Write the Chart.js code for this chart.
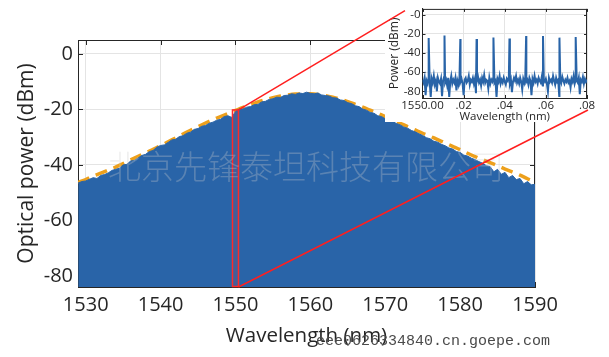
<!DOCTYPE html>
<html>
<head>
<meta charset="utf-8">
<script src="https://cdn.jsdelivr.net/npm/chart.js@4.4.1/dist/chart.umd.min.js"></script>
<style>
  html, body { margin: 0; padding: 0; background: #ffffff; }
  #wrap { position: relative; width: 609px; height: 357px; overflow: hidden; }
  canvas { position: absolute; }
  #main { left: 0; top: 0; }
  #inset { left: 385px; top: 0; }
  #overlay { left: 0; top: 0; pointer-events: none; }
</style>
</head>
<body>
<div id="wrap">
  <canvas id="main" width="609" height="357"></canvas>
  <canvas id="inset" width="224" height="124"></canvas>
  <canvas id="overlay" width="609" height="357"></canvas>
</div>
<script>
// ---------------- DATA ----------------
// Main spectrum: upper envelope of the comb spectrum (dBm), sampled every 0.5 nm from 1529 nm
const envelopeStartNm = 1529;
const envelopeStepNm = 0.5;
const envelopePower = [
  -46.5, -46.0, -45.8, -45.2, -44.6, -44.9, -43.8, -43.5, -42.9, -42.0,
  -41.6, -41.2, -40.0, -39.8, -38.6, -38.4, -37.5, -36.6, -36.2, -35.2,
  -34.8, -33.6, -33.0, -32.8, -31.9, -31.0, -30.8, -29.8, -29.5, -28.6,
  -28.2, -27.2, -26.9, -26.1, -25.8, -25.0, -24.6, -23.9, -23.6, -22.6,
  -22.3, -22.9, -20.8, -19.8, -19.9, -19.2, -19.0, -18.3, -18.2, -17.3,
  -17.1, -16.4, -16.2, -15.6, -15.7, -15.0, -14.9, -14.4, -14.6, -14.1,
  -14.3, -13.8, -14.2, -14.4, -14.1, -14.8, -15.0, -15.2, -15.8, -15.9,
  -16.6, -16.8, -17.6, -17.9, -18.7, -19.0, -19.9, -20.3, -21.1, -21.4,
  -22.3, -22.6, -23.4, -23.9, -24.4, -25.1, -25.6, -26.4, -26.8, -27.6,
  -28.1, -28.8, -29.4, -30.2, -30.6, -31.5, -31.8, -32.6, -33.1, -33.9,
  -34.3, -35.2, -35.5, -36.5, -36.8, -37.6, -38.1, -38.8, -39.4, -40.3,
  -40.6, -42.5, -41.6, -43.4, -42.7, -44.6, -43.8, -45.3, -44.9, -46.8,
  -46.0, -47.2, -47.0
];
// Fitted envelope (orange dashed), every 1 nm from 1529 nm
const fitStartNm = 1529;
const fitStepNm = 1;
const fitPower = [
  -46.3, -45.3, -44.0, -43.0, -41.9, -40.8, -39.5, -38.2, -36.9, -35.6,
  -34.4, -33.1, -31.7, -30.3, -28.9, -27.5, -26.2, -24.9, -23.7, -22.6,
  -21.5, -20.4, -19.3, -18.3, -17.3, -16.5, -15.8, -15.2, -14.8, -14.5,
  -14.4, -14.4, -14.6, -15.0, -15.6, -16.3, -17.2, -18.2, -19.2, -20.3,
  -21.4, -22.6, -23.8, -25.0, -26.2, -27.4, -28.6, -29.7, -30.9, -32.1,
  -33.3, -34.5, -35.8, -37.0, -38.1, -39.2, -40.3, -41.5, -42.6, -43.7,
  -45.0, -46.2
];
const xTickValues = [1530, 1540, 1550, 1560, 1570, 1580, 1590];
const yTickValues = [-80, -60, -40, -20, 0];
// Zoomed region marked on the main spectrum
const zoomFromNm = 1549.6;
const zoomToNm = 1550.4;
const zoomTopPower = -20.2;

// Inset: comb lines (offset from 1550.00 nm) and noise floor
const combOffsetNm = [0.0030, 0.0107, 0.0184, 0.0263, 0.0345, 0.0423, 0.0504, 0.0586, 0.0666, 0.0745];
const combPower = [-24.5, -21.7, -25.5, -25.5, -23.8, -24.8, -22.4, -22.4, -24.0, -23.4];
const noiseStepNm = 0.0005;
const noisePower = [
  -68, -71, -66, -84, -69, -72, -65, -70, -86, -67,
  -71, -64, -73, -69, -80, -66, -70, -72, -67, -85,
  -69, -65, -71, -68, -74, -66, -86, -70, -64, -72,
  -68, -71, -66, -79, -69, -73, -65, -70, -67, -72,
  -84, -68, -66, -71, -69, -64, -73, -68, -70, -66,
  -72, -67, -82, -69, -65, -71, -68, -74, -66, -70,
  -63, -71, -68, -69, -77, -66, -72, -68, -70, -65,
  -71, -69, -86, -67, -70, -64, -72, -68, -71, -66,
  -70, -73, -67, -69, -65, -72, -68, -81, -70, -66,
  -69, -64, -71, -68, -72, -66, -70, -78, -67, -71,
  -65, -70, -68, -73, -66, -69, -84, -67, -71, -64,
  -70, -68, -72, -66, -69, -71, -65, -74, -68, -70,
  -67, -72, -80, -66, -70, -68, -71, -64, -69, -73,
  -66, -70, -68, -85, -67, -71, -65, -69, -72, -68,
  -70, -66, -71, -69, -76, -67, -70, -64, -72, -68,
  -69, -71, -66, -83, -68, -70, -65, -72, -67, -70,
  -68
];
const insetXTickValues = [0, 0.02, 0.04, 0.06, 0.08];
const insetXTickLabels = ['1550.00', '.02', '.04', '.06', '.08'];
const insetYTickValues = [-80, -60, -40, -20, 0];
const insetYTickLabels = ['-80', '-60', '-40', '-20', '-0'];

// ---------------- BUILD ----------------
const BLUE = 'rgb(41,100,168)';
const ORANGE = 'rgb(237,160,28)';
const INK = '#262626';
const GRID = '#e4e4e4';
const FONT = '"Open Sans", "Noto Sans", sans-serif';

const envelopePts = envelopePower.map((p, i) => ({ x: envelopeStartNm + i * envelopeStepNm, y: p }));
const fitPts = fitPower.map((p, i) => ({ x: fitStartNm + i * fitStepNm, y: p }));

const insetPts = noisePower.map((p, i) => ({ x: i * noiseStepNm, y: p }))
  .concat(combOffsetNm.map((x, i) => ({ x: x, y: combPower[i] })))
  .sort((a, b) => a.x - b.x);

function boxPlugin(id, tickLen) {
  return {
    id: id,
    beforeDatasetsDraw(chart) {
      const { ctx, chartArea: a, scales } = chart;
      ctx.save();
      ctx.strokeStyle = INK;
      ctx.lineWidth = 1;
      ctx.beginPath();
      ctx.moveTo(a.left, a.top + 0.5); ctx.lineTo(a.right, a.top + 0.5);
      ctx.moveTo(a.right - 0.5, a.top); ctx.lineTo(a.right - 0.5, a.bottom);
      scales.x.ticks.forEach(t => {
        const px = Math.round(scales.x.getPixelForValue(t.value)) + 0.5;
        ctx.moveTo(px, a.top); ctx.lineTo(px, a.top + tickLen);
        ctx.moveTo(px, a.bottom); ctx.lineTo(px, a.bottom - tickLen);
      });
      scales.y.ticks.forEach(t => {
        const py = Math.round(scales.y.getPixelForValue(t.value)) + 0.5;
        ctx.moveTo(a.left, py); ctx.lineTo(a.left + tickLen, py);
        ctx.moveTo(a.right, py); ctx.lineTo(a.right - tickLen, py);
      });
      ctx.stroke();
      ctx.restore();
    }
  };
}

const mainDecor = {
  id: 'mainDecor',
  afterDatasetsDraw(chart) {
    const { ctx, scales, chartArea: a } = chart;
    ctx.save();
    // zoom rectangle
    const x0 = scales.x.getPixelForValue(zoomFromNm);
    const x1 = scales.x.getPixelForValue(zoomToNm);
    const y0 = scales.y.getPixelForValue(zoomTopPower);
    ctx.fillStyle = 'rgba(255,60,60,0.12)';
    ctx.fillRect(x0, y0, x1 - x0, a.bottom - y0);
    ctx.strokeStyle = '#ff2a2a';
    ctx.lineWidth = 1.5;
    ctx.strokeRect(x0, y0, x1 - x0, a.bottom - y0 - 0.5);
    // watermark
    ctx.font = '300 33px "Noto Sans CJK SC"';
    ctx.fillStyle = 'rgba(205,205,205,0.3)';
    ctx.textBaseline = 'middle';
    ctx.textAlign = 'left';
    ctx.fillText('北京先锋泰坦科技有限公司', 108, 166);
    ctx.restore();
  },
  afterDraw(chart) {
    const ctx = chart.ctx;
    ctx.save();
    ctx.font = '15px "Liberation Mono", monospace';
    ctx.fillStyle = '#4a4a4a';
    ctx.textBaseline = 'alphabetic';
    ctx.fillText('eee062633' + '4840.cn.goepe.com', 316, 345);
    ctx.restore();
  }
};

const main = new Chart(document.getElementById('main'), {
  type: 'line',
  data: {
    datasets: [
      {
        data: envelopePts,
        borderColor: BLUE,
        backgroundColor: BLUE,
        borderWidth: 1,
        pointRadius: 0,
        fill: 'start',
        tension: 0
      },
      {
        data: fitPts,
        borderColor: ORANGE,
        borderWidth: 3.5,
        borderDash: [12, 7],
        pointRadius: 0,
        fill: false,
        tension: 0.3
      }
    ]
  },
  options: {
    responsive: false,
    animation: false,
    devicePixelRatio: 1,
    layout: { padding: { top: 40, right: 74, left: 0, bottom: 0 } },
    plugins: { legend: { display: false }, tooltip: { enabled: false } },
    scales: {
      x: {
        type: 'linear',
        min: 1528.97,
        max: 1590,
        afterBuildTicks(s) { s.ticks = xTickValues.map(v => ({ value: v })); },
        afterFit(s) { s.height = 70; },
        ticks: { font: { family: FONT, size: 20 }, color: INK, padding: 6, maxRotation: 0, autoSkip: false, callback: v => String(v) },
        grid: { color: GRID, drawTicks: false },
        border: { color: INK, width: 1 },
        title: { display: true, text: 'Wavelength (nm)', font: { family: FONT, size: 20.5 }, color: INK, padding: { top: 0, bottom: 9 } }
      },
      y: {
        min: -84,
        max: 5,
        afterBuildTicks(s) { s.ticks = yTickValues.map(v => ({ value: v })); },
        afterFit(s) { s.width = 78; },
        ticks: { font: { family: FONT, size: 20 }, color: INK, padding: 5, autoSkip: false, callback: v => String(v) },
        grid: { color: GRID, drawTicks: false },
        border: { color: INK, width: 1 },
        title: { display: true, text: 'Optical power (dBm)', font: { family: FONT, size: 21 }, color: INK, padding: { top: 14, bottom: 14 } }
      }
    }
  },
  plugins: [boxPlugin('mainBox', 5), mainDecor]
});

const insetBg = {
  id: 'insetBg',
  beforeDraw(chart) {
    const ctx = chart.ctx;
    ctx.save();
    ctx.fillStyle = '#ffffff';
    ctx.fillRect(0, 0, chart.width, chart.height - 2);
    ctx.restore();
  }
};

const inset = new Chart(document.getElementById('inset'), {
  type: 'line',
  data: {
    datasets: [{
      data: insetPts,
      borderColor: BLUE,
      borderWidth: 2,
      pointRadius: 0,
      fill: false,
      tension: 0
    }]
  },
  options: {
    responsive: false,
    animation: false,
    devicePixelRatio: 1,
    layout: { padding: { top: 7, right: 22, left: 0, bottom: 0 } },
    plugins: { legend: { display: false }, tooltip: { enabled: false } },
    scales: {
      x: {
        type: 'linear',
        min: 0,
        max: 0.08,
        afterBuildTicks(s) { s.ticks = insetXTickValues.map(v => ({ value: v })); },
        afterFit(s) { s.height = 26; },
        ticks: { font: { family: FONT, size: 11.5 }, color: INK, padding: 1, maxRotation: 0, autoSkip: false,
                 callback: (v, i) => insetXTickLabels[i] },
        grid: { color: GRID, drawTicks: false },
        border: { color: INK, width: 1 },
        title: { display: true, text: 'Wavelength (nm)', font: { family: FONT, size: 11.5 }, color: INK, padding: { top: 0, bottom: 0 } }
      },
      y: {
        min: -87,
        max: 6,
        afterBuildTicks(s) { s.ticks = insetYTickValues.map(v => ({ value: v })); },
        afterFit(s) { s.width = 37.5; },
        ticks: { font: { family: FONT, size: 11.5 }, color: INK, padding: 2, autoSkip: false,
                 callback: (v, i) => insetYTickLabels[i] },
        grid: { color: GRID, drawTicks: false },
        border: { color: INK, width: 1 },
        title: { display: true, text: 'Power (dBm)', font: { family: FONT, size: 12 }, color: INK, padding: { top: 2, bottom: 2 } }
      }
    }
  },
  plugins: [insetBg, boxPlugin('insetBox', 3)]
});

// ---------------- connector lines ----------------
(function drawConnectors() {
  const ctx = document.getElementById('overlay').getContext('2d');
  const insetLeft = 385, insetTop = 0;
  const mx = main.scales.x, my = main.scales.y, ia = inset.chartArea;
  const xr = mx.getPixelForValue(zoomToNm);
  const yt = my.getPixelForValue(zoomTopPower);
  const yb = main.chartArea.bottom;
  ctx.strokeStyle = '#ff1f1f';
  ctx.lineWidth = 1.5;
  ctx.beginPath();
  ctx.moveTo(xr, yt);
  ctx.lineTo(insetLeft + ia.left - 17.5, insetTop + ia.top + 1.7);
  ctx.moveTo(xr, yb);
  ctx.lineTo(insetLeft + ia.right + 1, insetTop + ia.bottom + 12);
  ctx.stroke();
})();
</script>
</body>
</html>
